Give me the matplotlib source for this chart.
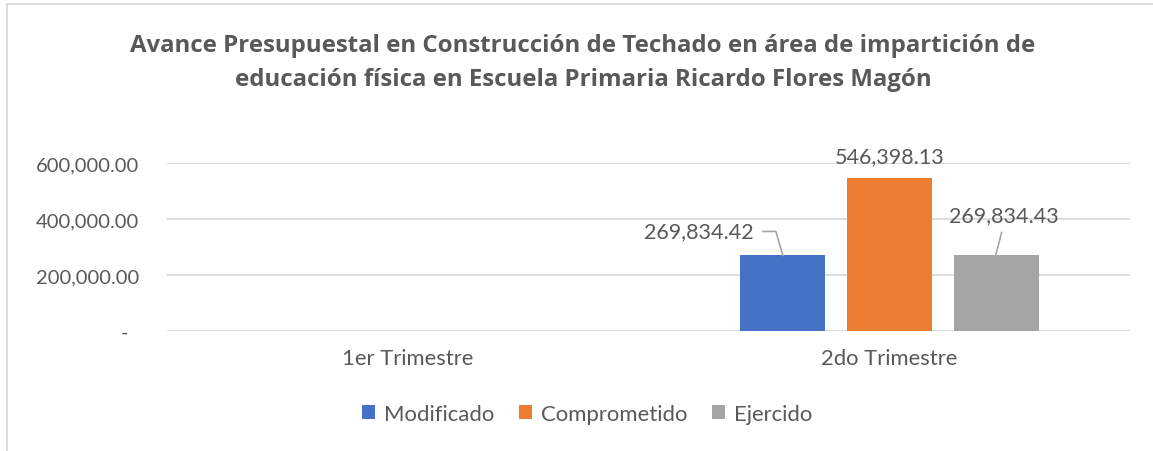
import matplotlib
matplotlib.use("Agg")
import matplotlib.pyplot as plt
from matplotlib.patches import Patch, Rectangle
from matplotlib.transforms import offset_copy
import numpy as np

# Data
categories = ["1er Trimestre", "2do Trimestre"]
series_names = ["Modificado", "Comprometido", "Ejercido"]
modificado = [0.0, 269834.42]
comprometido = [0.0, 546398.13]
ejercido = [0.0, 269834.43]
series_values = [modificado, comprometido, ejercido]
colors = ["#4472C4", "#ED7D31", "#A5A5A5"]
y_ticks = [0, 200000, 400000, 600000]
y_tick_labels = ["-  ", "200,000.00", "400,000.00", "600,000.00"]
title = ("Avance Presupuestal en Construcción de Techado en área de impartición de\n"
         "educación física en Escuela Primaria Ricardo Flores Magón")

TEXT = "#595959"
GRID = "#D9D9D9"
plt.rcParams["font.family"] = ["Lato", "DejaVu Sans"]

W, H = 1153, 452
fig = plt.figure(figsize=(W / 100, H / 100), dpi=100)

# chart area border (extends past the right/bottom edge)
fig.patches.append(Rectangle((7 / W, -0.1), 1.2, 1 - 5 / H + 0.1, transform=fig.transFigure,
                             fill=False, edgecolor=GRID, linewidth=1.3))

ax = fig.add_axes([167 / W, 1 - 332 / H, (1130 - 167) / W, (332 - 164) / H])
ax.set_xlim(-0.5, 1.5)
ax.set_ylim(0, 600000)

x = np.arange(len(categories))
bar_w = 0.1765
step = 0.222
for i, (name, vals, c) in enumerate(zip(series_names, series_values, colors)):
    ax.bar(x + (i - 1) * step, vals, width=bar_w, color=c, label=name, zorder=3)

ax.set_yticks(y_ticks)
ax.set_yticklabels(y_tick_labels)
ax.yaxis.grid(True, color=GRID, linewidth=1.3, zorder=0)
ax.set_xticks(x)
ax.set_xticklabels(categories)
for s in ax.spines.values():
    s.set_visible(False)
ax.tick_params(axis="both", length=0, colors=TEXT)
ax.tick_params(axis="y", pad=20, labelsize=14.5)
ax.tick_params(axis="x", pad=12, labelsize=15.8)

def fmt(v):
    return f"{v:,.2f}"

# data labels for the second quarter with leader lines
k = 1
label_specs = [
    (0, (-29, 24), "right", [(0.5, 0), (-6.5, 24), (-19.5, 24)]),
    (1, (0, 22), "center", None),
    (2, (7.5, 40), "center", [(-0.5, 0), (5.5, 23)]),
]
for si, (dx, dy), ha, leader in label_specs:
    v = series_values[si][k]
    xc = x[k] + (si - 1) * step
    tr = offset_copy(ax.transData, fig=fig, x=dx, y=dy, units="dots")
    ax.text(xc, v, fmt(v), transform=tr, ha=ha, va="center", color=TEXT, fontsize=15.5)
    if leader:
        pts = []
        for lx, ly in leader:
            px, py = ax.transData.transform((xc, v))
            pts.append(fig.transFigure.inverted().transform((px + lx, py + ly)))
        pts = np.array(pts)
        fig.add_artist(plt.Line2D(pts[:, 0], pts[:, 1], transform=fig.transFigure,
                                  color="#A6A6A6", linewidth=1.2))

fig.text(583 / W, 1 - 63 / H, title, ha="center", va="center", color=TEXT,
         fontsize=17.3, fontweight="bold", linespacing=1.55,
         family=["Open Sans", "DejaVu Sans"])

handles = [Patch(facecolor=c, label=n) for n, c in zip(series_names, colors)]
fig.legend(handles=handles, loc="center", bbox_to_anchor=(587 / W, 1 - 415 / H), ncol=3,
           frameon=False, fontsize=15.9, labelcolor=TEXT, handlelength=0.6,
           handleheight=0.6, handletextpad=0.4, columnspacing=1.1)

fig.savefig("out.png", dpi=100)
